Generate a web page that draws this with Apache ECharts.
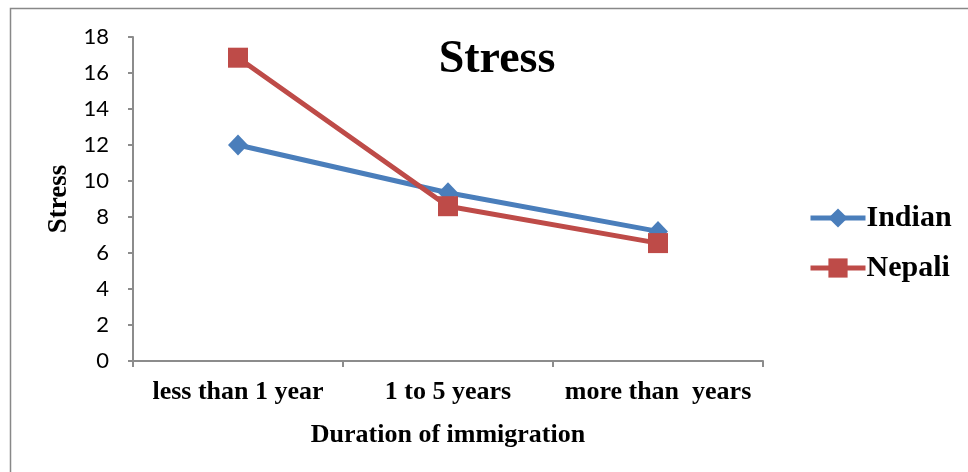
<!DOCTYPE html>
<html>
<head>
<meta charset="utf-8">
<style>
  html, body { margin: 0; padding: 0; background: #fff; }
  #chart { width: 968px; height: 472px; }
</style>
<script src="https://cdn.jsdelivr.net/npm/echarts@6/dist/echarts.min.js"></script>
</head>
<body>
<div id="chart"></div>
<script>
// Stress scores by duration of immigration
const categories = ['less than 1 year', '1 to 5 years', 'more than  years'];
const indian = [12.0, 9.35, 7.2];
const nepali = [16.85, 8.6, 6.55];
const yTicks = { min: 0, max: 18, interval: 2 };

const serif = '"Liberation Serif", "Times New Roman", serif';
const blue = '#4A7EBB';
const red = '#BE4B48';

const chart = echarts.init(document.getElementById('chart'), null, { renderer: 'canvas' });

chart.setOption({
  backgroundColor: '#fff',
  animation: false,
  title: {
    text: 'Stress',
    left: 492,
    top: 32,
    textAlign: 'center',
    textStyle: { fontFamily: serif, fontWeight: 'bold', fontSize: 46, color: '#000' }
  },
  legend: {
    orient: 'vertical',
    left: 803,
    top: 198,
    itemWidth: 55,
    itemHeight: 24,
    itemGap: 20,
    data: [
      { name: 'Indian', lineStyle: { width: 5 } },
      { name: 'Nepali', lineStyle: { width: 5 } }
    ],
    textStyle: { fontFamily: serif, fontWeight: 'bold', fontSize: 30, color: '#000', padding: [0, 0, 0, -4] }
  },
  grid: { left: 133, right: 205, top: 37, bottom: 111, containLabel: false },
  xAxis: {
    type: 'category',
    data: categories,
    boundaryGap: true,
    name: 'Duration of immigration',
    nameLocation: 'middle',
    nameGap: 61,
    nameTextStyle: { fontFamily: serif, fontWeight: 'bold', fontSize: 26, color: '#000' },
    axisLine: { lineStyle: { color: '#8c8c8c', width: 2 } },
    axisTick: { show: true, length: 6, alignWithLabel: false, lineStyle: { color: '#8c8c8c', width: 2 } },
    axisLabel: { fontFamily: serif, fontWeight: 'bold', fontSize: 26, color: '#000', margin: 18, interval: 0 },
    splitLine: { show: false }
  },
  yAxis: {
    type: 'value',
    min: yTicks.min,
    max: yTicks.max,
    interval: yTicks.interval,
    name: 'Stress',
    nameLocation: 'middle',
    nameGap: 58,
    nameRotate: 90,
    nameTextStyle: { fontFamily: serif, fontWeight: 'bold', fontSize: 27, color: '#000' },
    axisLine: { show: true, lineStyle: { color: '#8c8c8c', width: 2 } },
    axisTick: { show: true, length: 5, lineStyle: { color: '#8c8c8c', width: 2 } },
    axisLabel: { fontFamily: 'Lato, "Open Sans", sans-serif', fontSize: 22, color: '#000', margin: 24 },
    splitLine: { show: false }
  },
  series: [
    {
      name: 'Indian',
      type: 'line',
      data: indian,
      symbol: 'diamond',
      symbolSize: [20, 21],
      lineStyle: { color: blue, width: 5 },
      itemStyle: { color: blue },
      z: 2
    },
    {
      name: 'Nepali',
      type: 'line',
      data: nepali,
      symbol: 'rect',
      symbolSize: 20,
      lineStyle: { color: red, width: 5 },
      itemStyle: { color: red },
      z: 3
    }
  ],
  graphic: [
    {
      type: 'polyline',
      shape: { points: [[10.5, 472], [10.5, 8.5], [968, 8.5]] },
      style: { stroke: '#888', lineWidth: 1.5, fill: null },
      silent: true
    }
  ]
});
</script>
</body>
</html>
